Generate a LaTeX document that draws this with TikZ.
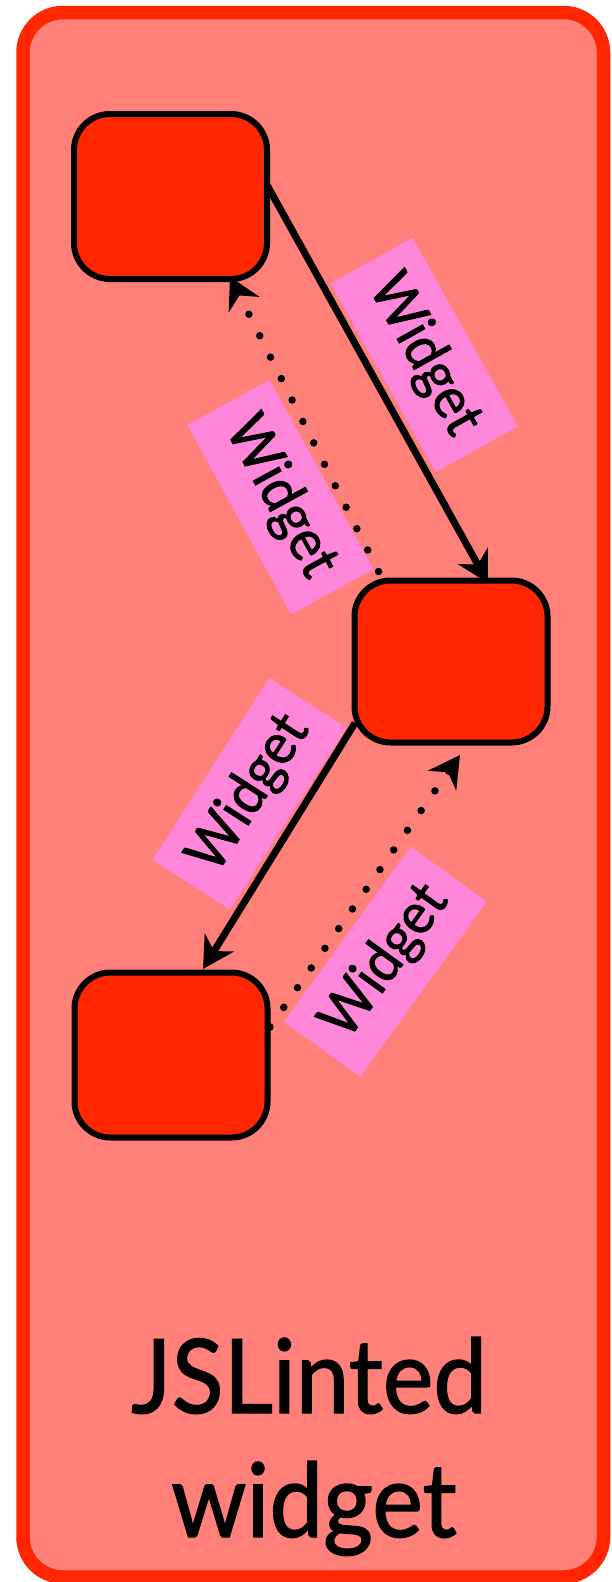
\documentclass[tikz,border=0pt]{standalone}
\usepackage{fontspec}
\setmainfont{Lato}
\newfontfamily\narrowlato[FakeStretch=0.93,FakeBold=1.3]{Lato}
\usetikzlibrary{arrows.meta,calc}
\definecolor{salmonbg}{RGB}{255,127,121}
\definecolor{redc}{RGB}{255,38,0}
\definecolor{pinkc}{RGB}{255,135,218}
\begin{document}
\begin{tikzpicture}[x=1pt,y=-1pt,
  frame/.style={draw=redc, line width=13.5pt, fill=salmonbg, rounded corners=40pt, minimum width=580.5pt, minimum height=1564.5pt, inner sep=0pt, outer sep=0pt},
  box/.style={draw=black, line width=6pt, fill=redc, rounded corners=36pt, minimum width=193pt, minimum height=165pt, inner sep=0pt, outer sep=0pt},
  lbl/.style={fill=pinkc, inner sep=0pt, minimum width=216pt, minimum height=94pt, font=\narrowlato\fontsize{58}{62}\selectfont},
  solidarrow/.style={line width=7pt, -{Stealth[length=31pt,width=34pt,inset=10pt]}},
  dotarrow/.style={line width=7.5pt, line cap=round, dash pattern=on 0pt off 24pt, -{Stealth[length=31pt,width=34pt,inset=10pt]}},
  bigtext/.style={anchor=base, inner sep=0pt, font=\narrowlato\fontsize{103}{124}\selectfont}
]
\useasboundingbox (0,0) rectangle (611,1582);
\node[frame] (F) at (313.25,794.75) {};
\node[box] (A) at (170.5,196.5) {};
\node[box, minimum height=162pt] (B) at (451,661.5) {};
\node[box] (C) at (171,1055) {};
\node[lbl, rotate=-60.9] (L1) at (424.2,355) {Widget};
\node[lbl, rotate=-61.3] (L2) at (280.4,497.1) {Widget};
\node[lbl, rotate=57.3, minimum height=92pt] (L3) at (249.6,793.75) {Widget};
\node[lbl, rotate=54.1] (L4) at (385.4,961.7) {Widget};
\draw[solidarrow] ($(A.east)+(0,-11.5)$) -- ($(B.north)+(37,2.5)$);
\draw[dotarrow] ($(B.north west)+(24,-9)$) -- ($(A.south)+(59.5,-2.3)$);
\draw[solidarrow] ($(B.south west)+(0.5,-19.5)$) -- ($(C.north)+(32,-3.5)$);
\draw[dotarrow] ($(C.east)+(2.5,-28)$) -- ($(B.south)+(9,12.5)$);
\node[bigtext] (T1) at (309,1413) {JSLinted};
\node[bigtext] (T2) at (314,1537) {widget};
\end{tikzpicture}
\end{document}
